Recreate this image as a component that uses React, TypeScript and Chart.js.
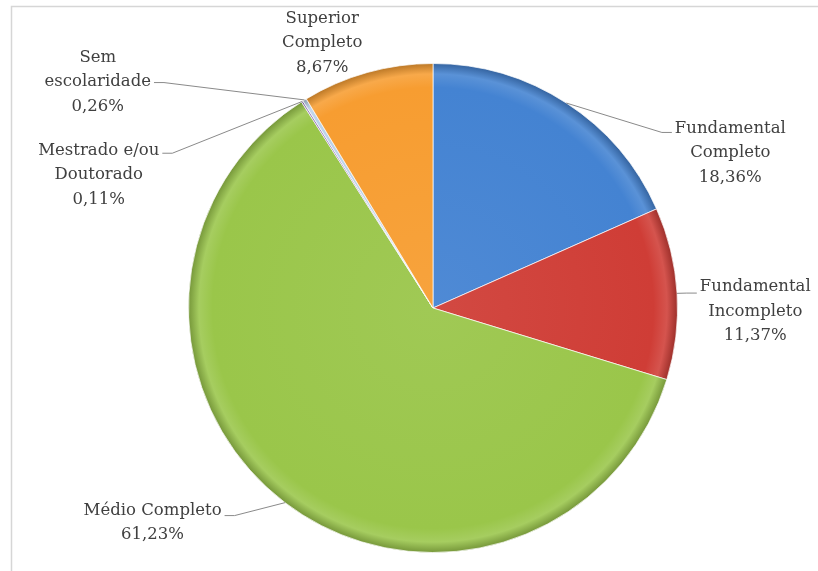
import React, { useEffect, useRef } from "react";
import { Chart, registerables } from "chart.js";

Chart.register(...registerables);

const categories = [
  "Fundamental Completo",
  "Fundamental Incompleto",
  "Médio Completo",
  "Mestrado e/ou Doutorado",
  "Sem escolaridade",
  "Superior Completo",
];
const labelLines = [
  ["Fundamental", "Completo"],
  ["Fundamental", "Incompleto"],
  ["Médio Completo"],
  ["Mestrado e/ou", "Doutorado"],
  ["Sem", "escolaridade"],
  ["Superior", "Completo"],
];
const values = [18.36, 11.37, 61.23, 0.11, 0.26, 8.67];
const percentLabels = ["18,36%", "11,37%", "61,23%", "0,11%", "0,26%", "8,67%"];
const colors = ["#4483d2", "#cf3d36", "#9ac64a", "#8c6bb1", "#bcd3ea", "#f79d31"];

// label placement, in units of the pie radius relative to its centre
// hookLine = which text line the leader attaches to
const placements = [
  { tx: 1.216, ty: -0.735, ey: -0.718, side: 1, hookLine: 0 },
  { tx: 1.318, ty: -0.086, ey: -0.061, side: 1, hookLine: 0 },
  { tx: -1.147, ty: 0.829, ey: 0.849, side: -1, hookLine: 0 },
  { tx: -1.367, ty: -0.645, ey: -0.633, side: -1, hookLine: 0 },
  { tx: -1.371, ty: -1.024, ey: -0.922, side: -1, hookLine: 1 },
  { tx: -0.453, ty: -1.184, ey: null, side: 0, hookLine: 0 },
];

const FONT = "16.5px 'DejaVu Serif'";
const LINE_H = 24.5;

function shade(hex: string, f: number) {
  const n = parseInt(hex.slice(1), 16);
  let r = (n >> 16) & 255, g = (n >> 8) & 255, b = n & 255;
  const m = (c: number) =>
    Math.max(0, Math.min(255, Math.round(f >= 0 ? c + (255 - c) * f : c * (1 + f))));
  return `rgb(${m(r)},${m(g)},${m(b)})`;
}

const framePlugin = {
  id: "frame",
  beforeDraw(chart: any) {
    const c = chart.ctx;
    c.save();
    c.fillStyle = "#ffffff";
    c.fillRect(0, 0, chart.width, chart.height);
    c.strokeStyle = "#d6d6d6";
    c.lineWidth = 1.5;
    c.beginPath();
    c.moveTo(chart.width, 6.5);
    c.lineTo(11.5, 6.5);
    c.lineTo(11.5, chart.height);
    c.stroke();
    c.restore();
  },
};

const labelPlugin = {
  id: "pieLabels",
  afterDraw(chart: any) {
    const meta = chart.getDatasetMeta(0);
    const c = chart.ctx;
    c.save();
    c.font = FONT;
    c.textAlign = "center";
    c.textBaseline = "middle";
    meta.data.forEach((arc: any, i: number) => {
      const p = placements[i];
      const R = arc.outerRadius;
      const cx = arc.x, cy = arc.y;
      const mid = (arc.startAngle + arc.endAngle) / 2;
      const ax = cx + Math.cos(mid) * R;
      const ay = cy + Math.sin(mid) * R;
      const lines = [...labelLines[i], percentLabels[i]];
      const txp = cx + p.tx * R;
      if (p.ey !== null) {
        const w = c.measureText(lines[p.hookLine]).width;
        const ex = txp - p.side * (w / 2 + 3);
        const ey = cy + (p.ey as number) * R;
        const elbowX = ex - p.side * 10;
        c.strokeStyle = "#8a8a8a";
        c.lineWidth = 1;
        c.beginPath();
        c.moveTo(ax, ay);
        c.lineTo(elbowX, ey);
        c.lineTo(ex, ey);
        c.stroke();
      }
      c.fillStyle = "#404040";
      lines.forEach((t, k) => {
        c.fillText(t, txp, cy + p.ty * R + k * LINE_H);
      });
    });
    c.restore();
  },
};

export default function App() {
  const ref = useRef<HTMLCanvasElement>(null);
  useEffect(() => {
    if (!ref.current) return;
    const chart = new Chart(ref.current, {
      type: "pie",
      data: {
        labels: categories,
        datasets: [
          {
            data: values,
            backgroundColor: (ctx: any) => {
              const base = colors[ctx.dataIndex];
              const ch = ctx.chart;
              const a = ch.chartArea;
              if (!a) return base;
              const cx = (a.left + a.right) / 2;
              const cy = (a.top + a.bottom) / 2;
              const r = Math.min(a.right - a.left, a.bottom - a.top) / 2;
              const g = ch.ctx.createRadialGradient(cx, cy, 0, cx, cy, r);
              g.addColorStop(0, shade(base, 0.06));
              g.addColorStop(0.9, base);
              g.addColorStop(0.955, shade(base, 0.12));
              g.addColorStop(1, shade(base, -0.25));
              return g;
            },
            borderColor: "rgba(255,255,255,0.7)",
            borderWidth: 1,
          },
        ],
      },
      options: {
        responsive: false,
        animation: false,
        devicePixelRatio: 1,
        layout: { padding: { left: 188, right: 140, top: 63, bottom: 18 } },
        plugins: {
          legend: { display: false },
          tooltip: { enabled: false },
          title: { display: false },
        },
      },
      plugins: [framePlugin, labelPlugin],
    } as any);
    return () => chart.destroy();
  }, []);
  return (
    <div style={{ position: "absolute", left: 0, top: 0, width: 818, height: 571 }}>
      <canvas ref={ref} width={818} height={571} />
    </div>
  );
}
